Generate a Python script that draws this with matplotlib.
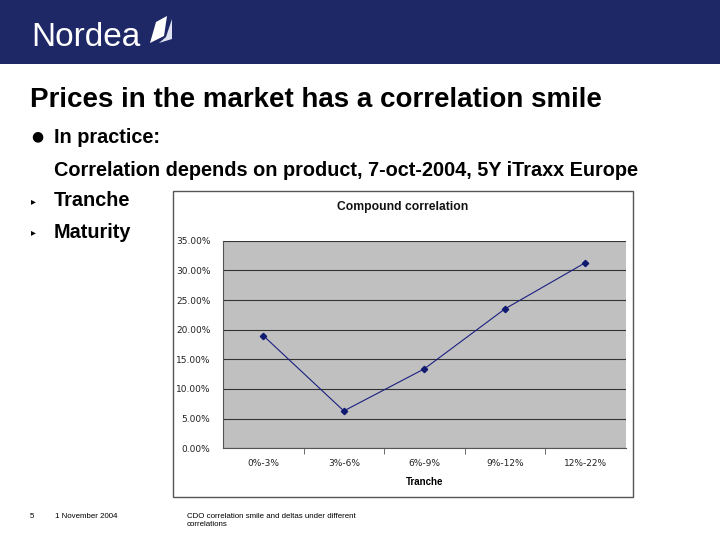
import matplotlib.pyplot as plt
from matplotlib.patches import Rectangle, Polygon
from matplotlib.ticker import FuncFormatter, FixedLocator

# data
tranches = ["0%-3%", "3%-6%", "6%-9%", "9%-12%", "12%-22%"]
compound_corr = [19.0, 6.3, 13.4, 23.5, 31.3]
y_ticks = [0, 5, 10, 15, 20, 25, 30, 35]

W, H = 720, 540
NAVY = "#1f2866"


def fx(px):
    return px / W


def fy(py):
    return 1 - py / H


fig = plt.figure(figsize=(7.2, 5.4), dpi=100)
fig.patch.set_facecolor("white")

# header band and logo
fig.patches.append(Rectangle((0, fy(64)), 1, 64 / H, transform=fig.transFigure,
                             facecolor=NAVY, edgecolor="none", zorder=-2))
fig.text(fx(31), fy(38), "Nordea", color="white", fontsize=24,
         family="Liberation Sans", va="center", ha="left")
sail1 = [(fx(150), fy(43)), (fx(156), fy(22)), (fx(167), fy(16)), (fx(164), fy(36))]
sail2 = [(fx(159), fy(43)), (fx(166), fy(37)), (fx(172), fy(19)), (fx(172), fy(39))]
fig.patches.append(Polygon(sail1, closed=True, transform=fig.transFigure,
                           facecolor="white", edgecolor="none"))
fig.patches.append(Polygon(sail2, closed=True, transform=fig.transFigure,
                           facecolor="#dfe3f0", edgecolor="none"))

# slide text
body = ["Liberation Sans", "DejaVu Sans"]
fig.text(fx(30), fy(100), "Prices in the market has a correlation smile",
         fontsize=20, fontweight="bold", family=body, va="center")
fig.text(fx(31), fy(136), "\u25cf", fontsize=10, family="DejaVu Sans", va="center")
fig.text(fx(54), fy(137), "In practice:", fontsize=14.3, fontweight="bold",
         family=body, va="center")
fig.text(fx(54), fy(170), "Correlation depends on product, 7-oct-2004, 5Y iTraxx Europe",
         fontsize=14.3, fontweight="bold", family=body, va="center")
for yy, s in [(201, "Tranche"), (232, "Maturity")]:
    fig.text(fx(31), fy(yy), "\u25b8", fontsize=7, family="DejaVu Sans", va="center")
    fig.text(fx(54), fy(yy), s, fontsize=14.3, fontweight="bold",
             family=body, va="center")

# footer
fig.text(fx(30), fy(517), "5", fontsize=5.7, family=body, va="center")
fig.text(fx(55), fy(517), "1 November 2004", fontsize=5.7, family=body, va="center")
fig.text(fx(187), fy(513), "CDO correlation smile and deltas under different\ncorrelations",
         fontsize=5.7, family=body, va="top", linespacing=1.3)

# chart frame
fig.patches.append(Rectangle((fx(173), fy(497)), (633 - 173) / W, (497 - 191) / H,
                             transform=fig.transFigure, facecolor="white",
                             edgecolor="#555555", linewidth=1.0, zorder=-1))
fig.text(fx(403), fy(207), "Compound correlation", fontsize=8.7, fontweight="bold",
         family=body, ha="center", va="center", color="#111111")

ax = fig.add_axes([fx(223), fy(448.3), (625.7 - 223) / W, (448.3 - 240.7) / H])
ax.set_facecolor("#c0c0c0")
x = list(range(len(tranches)))
ax.plot(x, compound_corr, color="#1a1f80", linewidth=0.8, marker="D",
        markersize=3.2, markerfacecolor="#101a70", markeredgecolor="#101a70")
ax.set_xlim(-0.5, len(tranches) - 0.5)
ax.set_ylim(0, 35)
ax.set_yticks(y_ticks)
ax.yaxis.set_major_formatter(FuncFormatter(lambda v, p: f"{v:.2f}%"))
ax.grid(axis="y", color="#333333", linewidth=0.8)
ax.set_axisbelow(True)
ax.set_xticks(x)
ax.set_xticklabels(tranches)
ax.xaxis.set_minor_locator(FixedLocator([i + 0.5 for i in range(len(tranches) - 1)]))
ax.tick_params(axis="x", which="major", length=0, pad=8, labelsize=6.5, labelcolor="#222222")
ax.tick_params(axis="x", which="minor", length=4, color="#555555", direction="out")
ax.tick_params(axis="y", length=0, pad=9, labelsize=6.5, labelcolor="#222222")
for name in ["top", "right"]:
    ax.spines[name].set_visible(False)
for name in ["left", "bottom"]:
    ax.spines[name].set_color("#555555")
    ax.spines[name].set_linewidth(0.8)
ax.set_xlabel("Tranche", fontsize=7, fontweight="bold", family=body, labelpad=6)

fig.savefig("out.png", dpi=100)
